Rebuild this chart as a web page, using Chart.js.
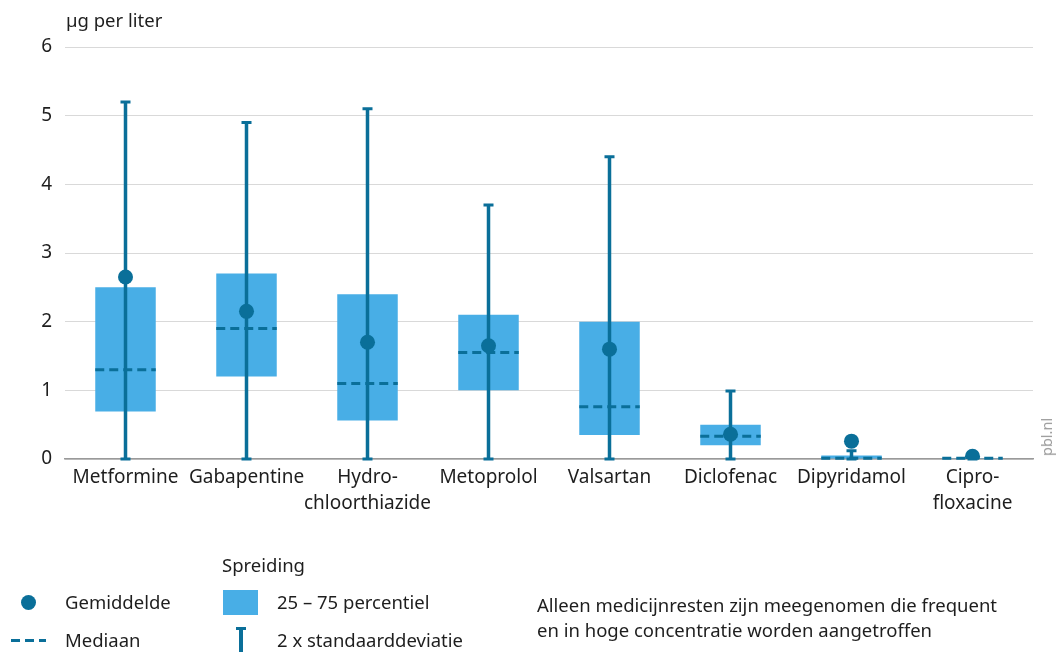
<!DOCTYPE html>
<html>
<head>
<meta charset="utf-8">
<script src="https://cdn.jsdelivr.net/npm/chart.js@4"></script>
<style>
  html, body { margin: 0; padding: 0; background: #fff; }
  body { width: 1057px; height: 652px; position: relative; overflow: hidden;
         font-family: 'Noto Sans', 'Open Sans', sans-serif; color: #1e1e1e; }
  #wrap { position: absolute; left: 0; top: 0; width: 1057px; height: 652px; }
  .txt { position: absolute; font-size: 18.5px; white-space: nowrap; line-height: 24px; }
  .unit { left: 66px; top: 8px; }
  .pbl { left: 1046px; top: 437px; font-size: 14.5px; color: #999; font-weight: 400;
         transform: translate(-50%, -50%) rotate(-90deg); position: absolute; }
  .dot { position: absolute; width: 15px; height: 15px; border-radius: 50%; background: #0a6f99; }
  .dash { position: absolute; height: 3px; background: repeating-linear-gradient(90deg, #0a6f99 0 9px, transparent 9px 14px); }
  .box { position: absolute; background: #48aee6; }
  .wline { position: absolute; background: #0a6f99; }
</style>
</head>
<body>
<div id="wrap"><canvas id="chart"></canvas></div>

<div class="txt unit">µg per liter</div>
<div class="pbl">pbl.nl</div>

<div class="txt" style="left:222px; top:553px;">Spreiding</div>
<div class="dot" style="left:21px; top:595px;"></div>
<div class="txt" style="left:65px; top:590px;">Gemiddelde</div>
<div class="dash" style="left:11px; top:639px; width:35px;"></div>
<div class="txt" style="left:65px; top:628px;">Mediaan</div>
<div class="box" style="left:223px; top:590px; width:35px; height:25px;"></div>
<div class="txt" style="left:277px; top:590px;">25 – 75 percentiel</div>
<div class="wline" style="left:236px; top:627px; width:10px; height:3px;"></div>
<div class="wline" style="left:239px; top:627px; width:4px; height:30px;"></div>
<div class="txt" style="left:277px; top:628px;">2 x standaarddeviatie</div>
<div class="txt" style="left:537px; top:592px; line-height:25px;">Alleen medicijnresten zijn meegenomen die frequent<br>en in hoge concentratie worden aangetroffen</div>

<script>
// categories and values (µg per liter)
const categories = [['Metformine'], ['Gabapentine'], ['Hydro-', 'chloorthiazide'], ['Metoprolol'],
                    ['Valsartan'], ['Diclofenac'], ['Dipyridamol'], ['Cipro-', 'floxacine']];
const p25    = [0.69, 1.2, 0.56, 1.0, 0.35, 0.2, 0, 0];
const p75    = [2.5, 2.7, 2.4, 2.1, 2.0, 0.5, 0.05, 0.01];
const median = [1.3, 1.9, 1.1, 1.55, 0.76, 0.33, 0.01, 0.01];
const mean   = [2.65, 2.15, 1.7, 1.65, 1.6, 0.36, 0.26, 0.04];
const sdLow  = [0, 0, 0, 0, 0, 0, 0, 0];
const sdHigh = [5.2, 4.9, 5.1, 3.7, 4.4, 0.99, 0.12, 0.01];
const yTicks = [0, 1, 2, 3, 4, 5, 6];

const DARK = '#0a6f99';
const LIGHT = '#48aee6';

// draws the dashed medians and the 2 x sd whiskers on top of the boxes
const boxExtras = {
    id: 'boxExtras',
    afterDatasetDraw(chart, args) {
        if (args.index !== 0) return;
        const ctx = chart.ctx;
        const x = chart.scales.x, y = chart.scales.y;
        const bars = args.meta.data;
        ctx.save();
        ctx.strokeStyle = DARK;
        for (let i = 0; i < categories.length; i++) {
            const cx = x.getPixelForValue(i);
            const half = bars[i].width / 2;
            // median
            const ym = y.getPixelForValue(median[i]);
            ctx.setLineDash([9, 5]);
            ctx.lineWidth = 3;
            ctx.beginPath();
            ctx.moveTo(cx - half, ym);
            ctx.lineTo(cx + half, ym);
            ctx.stroke();
            // whisker
            ctx.setLineDash([]);
            const y0 = y.getPixelForValue(sdLow[i]);
            const y1 = y.getPixelForValue(sdHigh[i]);
            ctx.lineWidth = 3.5;
            ctx.beginPath();
            ctx.moveTo(cx, y0);
            ctx.lineTo(cx, y1);
            ctx.stroke();
            ctx.lineWidth = 3;
            ctx.beginPath();
            ctx.moveTo(cx - 5, y1);
            ctx.lineTo(cx + 5, y1);
            ctx.moveTo(cx - 5, y0);
            ctx.lineTo(cx + 5, y0);
            ctx.stroke();
        }
        ctx.restore();
    }
};

Chart.defaults.font.family = "'Noto Sans', 'Open Sans', sans-serif";
Chart.defaults.font.size = 19;
Chart.defaults.color = '#1e1e1e';

new Chart(document.getElementById('chart').getContext('2d'), {
    type: 'bar',
    data: {
        labels: categories,
        datasets: [
            {
                label: '25 – 75 percentiel',
                data: p25.map((v, i) => [v, p75[i]]),
                backgroundColor: LIGHT,
                borderWidth: 0,
                categoryPercentage: 1,
                barPercentage: 0.5,
                order: 1
            },
            {
                type: 'line',
                label: 'Gemiddelde',
                data: mean,
                showLine: false,
                pointRadius: 7.5,
                pointBackgroundColor: DARK,
                pointBorderColor: DARK,
                pointBorderWidth: 0,
                order: 0
            }
        ]
    },
    options: {
        responsive: true,
        maintainAspectRatio: false,
        animation: false,
        layout: { padding: { top: 47, right: 24, left: 0, bottom: 0 } },
        plugins: {
            legend: { display: false },
            tooltip: { enabled: false }
        },
        scales: {
            x: {
                offset: true,
                grid: { display: false, drawTicks: false },
                border: { display: true, color: '#9a9a9a', width: 1.5 },
                ticks: { padding: 6, maxRotation: 0, autoSkip: false, color: '#1e1e1e',
                         font: { size: 19, lineHeight: 1.37 } },
                afterFit(scale) { scale.height = 652 - 459; }
            },
            y: {
                min: 0,
                max: 6,
                afterBuildTicks(scale) { scale.ticks = yTicks.map(v => ({ value: v })); },
                grid: { color: '#d9d9d9', lineWidth: 1, drawTicks: false },
                border: { display: false },
                ticks: { padding: 13, color: '#1e1e1e' },
                afterFit(scale) { scale.width = 65; }
            }
        }
    },
    plugins: [boxExtras]
});
</script>
</body>
</html>
